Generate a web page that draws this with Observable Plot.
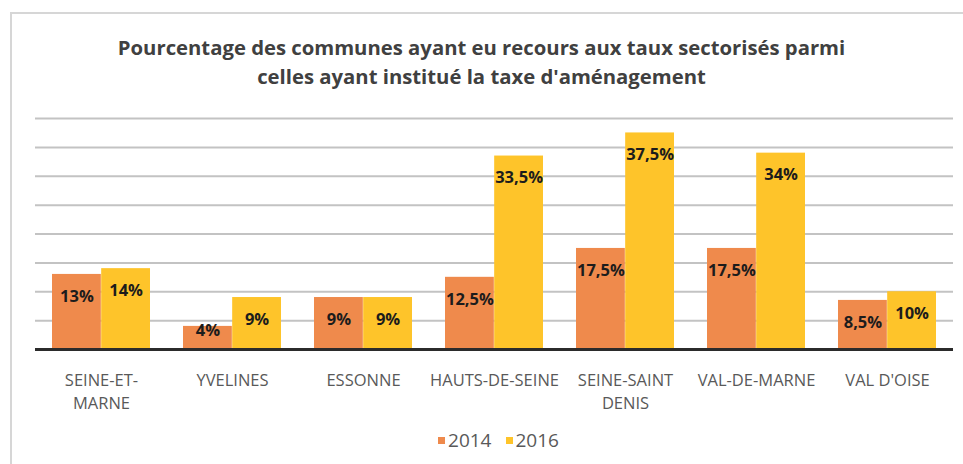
<!DOCTYPE html>
<html>
<head>
<meta charset="utf-8">
<script src="https://cdn.jsdelivr.net/npm/d3@7"></script>
<script src="https://cdn.jsdelivr.net/npm/@observablehq/plot@0.6"></script>
<style>
  html, body { margin: 0; padding: 0; background: #fff; }
  body { width: 963px; height: 464px; position: relative; overflow: hidden; font-family: "Open Sans", sans-serif; }
  #frame { position: absolute; left: 10px; top: 12px; width: 960px; height: 460px;
           border-top: 2px solid #d6d6d6; border-left: 2px solid #d6d6d6; }
  #title { position: absolute; left: 0; top: 33px; width: 963px; text-align: center;
           font-weight: 700; font-size: 20.3px; line-height: 29px; color: #404040; }
  #chart { position: absolute; left: 0; top: 100px; }
  #legend { position: absolute; left: 17px; top: 427px; width: 963px; text-align: center;
            font-size: 19px; color: #595959; line-height: 26px; }
  #legend span.item { display: inline-block; margin: 0 7px; }
  #legend span.sw { display: inline-block; width: 7px; height: 7px; margin-right: 3px; vertical-align: 3px; }
</style>
</head>
<body>
<div id="frame"></div>
<div id="title">Pourcentage des communes ayant eu recours aux taux sectorisés parmi<br>celles ayant institué la taxe d'aménagement</div>
<div id="chart"></div>
<div id="legend"></div>
<script>
const categories = ["SEINE-ET-MARNE", "YVELINES", "ESSONNE", "HAUTS-DE-SEINE", "SEINE-SAINT DENIS", "VAL-DE-MARNE", "VAL D'OISE"];
const axisLabels = ["SEINE-ET-\nMARNE", "YVELINES", "ESSONNE", "HAUTS-DE-SEINE", "SEINE-SAINT\nDENIS", "VAL-DE-MARNE", "VAL D'OISE"];
const years = ["2014", "2016"];
const values2014 = [13, 4, 9, 12.5, 17.5, 17.5, 8.5];
const values2016 = [14, 9, 9, 33.5, 37.5, 34, 10];
const labels2014 = ["13%", "4%", "9%", "12,5%", "17,5%", "17,5%", "8,5%"];
const labels2016 = ["14%", "9%", "9%", "33,5%", "37,5%", "34%", "10%"];
const gridTicks = [5, 10, 15, 20, 25, 30, 35, 40];
const colors = ["#EF8A4C", "#FEC42A"];

const rows = categories.flatMap((c, i) => [
  {cat: c, year: years[0], value: values2014[i], label: labels2014[i]},
  {cat: c, year: years[1], value: values2016[i], label: labels2016[i]}
]);
const axisRows = categories.map((c, i) => ({cat: c, text: axisLabels[i]}));

const W = 963, H = 320, mL = 35, mR = 10, mT = 18, mB = 71;
const pIn = 0.25, pOut = 0.125;
const step = (W - mL - mR) / (categories.length - pIn + 2 * pOut);
const half = step * (1 - pIn) / 2;

const big = d => d.value >= 6;
const small = d => d.value < 6;

const plot = Plot.plot({
  width: W, height: H,
  marginLeft: mL, marginRight: mR, marginTop: mT, marginBottom: mB,
  style: {background: "transparent", fontFamily: "Open Sans", overflow: "visible"},
  x: {domain: categories, paddingInner: pIn, paddingOuter: pOut, axis: null},
  y: {domain: [0, 40], axis: null},
  color: {domain: years, range: colors},
  marks: [
    Plot.ruleY(gridTicks, {stroke: "#c3c3c3", strokeWidth: 2}),
    Plot.barY(rows.filter(d => d.year === years[0]), {x: "cat", y: "value", fill: "year", insetRight: half}),
    Plot.barY(rows.filter(d => d.year === years[1]), {x: "cat", y: "value", fill: "year", insetLeft: half}),
    Plot.ruleY([0], {stroke: "#2b2b2b", strokeWidth: 3}),
    Plot.text(rows.filter(d => d.year === years[0] && big(d)), {x: "cat", y: "value", text: "label", dx: -half / 2, dy: 22, fontSize: 16.5, fontWeight: 700, fill: "#1c1c1c"}),
    Plot.text(rows.filter(d => d.year === years[1] && big(d)), {x: "cat", y: "value", text: "label", dx: half / 2, dy: 22, fontSize: 16.5, fontWeight: 700, fill: "#1c1c1c"}),
    Plot.text(rows.filter(d => d.year === years[0] && small(d)), {x: "cat", y: 0, text: "label", dx: -half / 2, dy: -19, fontSize: 16.5, fontWeight: 700, fill: "#1c1c1c"}),
    Plot.text(rows.filter(d => d.year === years[1] && small(d)), {x: "cat", y: 0, text: "label", dx: half / 2, dy: -19, fontSize: 16.5, fontWeight: 700, fill: "#1c1c1c"}),
    Plot.text(axisRows, {x: "cat", text: "text", frameAnchor: "bottom", lineAnchor: "top", dy: 19, lineHeight: 1.45, fontSize: 16.5, fill: "#595959"})
  ]
});
document.getElementById("chart").appendChild(plot);

const legend = document.getElementById("legend");
years.forEach((y, i) => {
  const item = document.createElement("span");
  item.className = "item";
  const sw = document.createElement("span");
  sw.className = "sw";
  sw.style.background = colors[i];
  item.appendChild(sw);
  item.appendChild(document.createTextNode(y));
  legend.appendChild(item);
});
</script>
</body>
</html>
